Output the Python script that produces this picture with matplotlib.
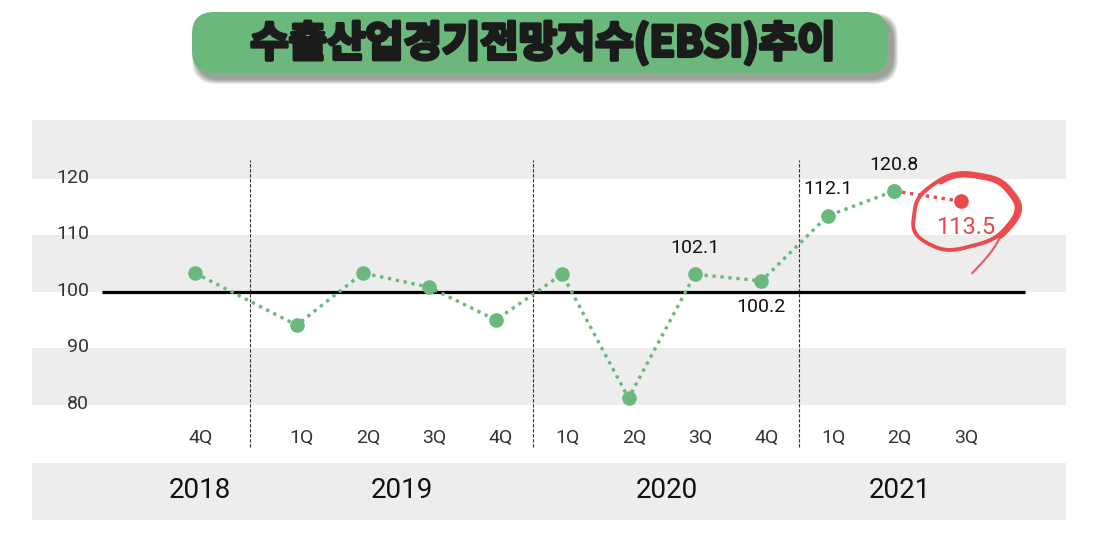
import numpy as np
import matplotlib
matplotlib.use("Agg")
import matplotlib.pyplot as plt
from matplotlib.patches import FancyBboxPatch
from matplotlib import transforms
import matplotlib.patheffects as pe

plt.rcParams['font.family'] = ['Roboto', 'Noto Sans CJK KR', 'DejaVu Sans']

# ---------------- data ----------------
title = "수출산업경기전망지수(EBSI)추이"
years = ["2018", "2019", "2020", "2021"]
quarters = ["4Q", "1Q", "2Q", "3Q", "4Q", "1Q", "2Q", "3Q", "4Q", "1Q", "2Q", "3Q"]
year_idx = [0, 1, 1, 1, 1, 2, 2, 2, 2, 3, 3, 3]
ebsi = [103.3, 94.1, 103.3, 100.8, 95.0, 103.1, 81.2, 103.1, 101.9, 113.4, 117.8, 116.0]
label_idx = [7, 8, 9, 10, 11]
label_txt = ["102.1", "100.2", "112.1", "120.8", "113.5"]
label_dir = [1, -1, 1, 1, -1]
yticks = [80, 90, 100, 110, 120]
baseline = 100

GREEN = "#6bb87d"
RED = "#eb484b"
BAND = "#ededed"

# ---------------- layout ----------------
W, H = 1101, 537
fig = plt.figure(figsize=(W / 100, H / 100), dpi=100)
fig.patch.set_facecolor("white")

first_gap = 0.53
xpos = np.array([i + (first_gap if i > 0 else 0.0) for i in range(len(quarters))])
ppu = 66.4
x0_px = 195
ax = fig.add_axes([32 / W, 1 - 520 / H, 1034 / W, 400 / H])
ax.set_xlim((32 - x0_px) / ppu, (1066 - x0_px) / ppu)
ax.set_ylim(59.67, 130.34)
for s in ax.spines.values():
    s.set_visible(False)
ax.set_xticks([])
ax.set_yticks(yticks)
ax.set_yticklabels([str(v) for v in yticks])
ax.tick_params(axis='y', length=0, pad=-41, labelsize=14, labelcolor="#333333")
shift = transforms.ScaledTranslation(0, 3 / 100, fig.dpi_scale_trans)
for lab in ax.get_yticklabels():
    lab.set_transform(lab.get_transform() + shift)

# background bands
for lo, hi in [(120, 130.34), (100, 110), (80, 90), (59.67, 69.75)]:
    ax.axhspan(lo, hi, color=BAND, lw=0, zorder=0)

# baseline 100
ax.hlines(baseline, (102 - x0_px) / ppu, (1025 - x0_px) / ppu,
          color="black", lw=2.3, zorder=2)

# year separators
for k in range(1, len(years)):
    prev_last = max(xpos[j] for j in range(len(xpos)) if year_idx[j] == k - 1)
    next_first = min(xpos[j] for j in range(len(xpos)) if year_idx[j] == k)
    ax.vlines((prev_last + next_first) / 2 + 0.06, 72.6, 123.3, color="#333333",
              lw=0.8, linestyles=(0, (3, 1.5)), zorder=1)

# quarter labels
for x, q in zip(xpos, quarters):
    ax.text(x + 0.08, 74.1, q, ha="center", va="center", fontsize=14,
            color="#333333")

# year labels
for k, yr in enumerate(years):
    xs = [xpos[j] for j in range(len(xpos)) if year_idx[j] == k]
    ax.text(np.mean(xs) + 0.08, 64.8, yr, ha="center", va="center", fontsize=20,
            color="#111111")

# series
ax.plot(xpos[:-1], ebsi[:-1], color=GREEN, lw=2.4, linestyle=(0, (1, 1.4)),
        marker="o", markersize=10.5, markeredgewidth=0, zorder=3)
ax.plot(xpos[-2:], ebsi[-2:], color=RED, lw=2.4, linestyle=(0, (1, 1.4)), zorder=3)
ax.plot(xpos[-2:-1], ebsi[-2:-1], "o", color=GREEN, markersize=10.5, markeredgewidth=0, zorder=4)
ax.plot(xpos[-1:], ebsi[-1:], "o", color=RED, markersize=10.5, markeredgewidth=0, zorder=4)

for i, t, d in zip(label_idx, label_txt, label_dir):
    red = (i == len(ebsi) - 1)
    ax.annotate(t, (xpos[i], ebsi[i]), xytext=(4 if red else 0, 19 * d),
                textcoords="offset points", ha="center", va="center",
                fontsize=17 if red else 14, color=RED if red else "#111111",
                zorder=5)

# ---------------- overlay (title, hand-drawn circle) ----------------
ov = fig.add_axes([0, 0, 1, 1])
ov.set_xlim(0, W)
ov.set_ylim(H, 0)
ov.axis("off")
ov.patch.set_alpha(0)

bx, by, bw, bh = 192, 12, 696, 61
for k in range(10, 0, -1):
    grow = k * 1.0
    ov.add_patch(FancyBboxPatch((bx + 5 - grow / 2, by + 6 - grow / 2), bw + grow, bh + grow,
                                boxstyle="round,pad=0,rounding_size=24",
                                fc="#2a3a2a", ec="none", alpha=0.06, zorder=1))
ov.add_patch(FancyBboxPatch((bx, by), bw, bh, boxstyle="round,pad=0,rounding_size=22",
                            fc=GREEN, ec="none", zorder=2))
ov.text(bx + bw / 2 + 3, by + bh / 2 + 1, title, ha="center", va="center",
        fontsize=30, fontweight="black", color="#1b1b1b",
        family=["Noto Sans CJK KR", "DejaVu Sans"], zorder=3,
        path_effects=[pe.withStroke(linewidth=2.6, foreground="#1b1b1b")])

# hand-drawn red loop (continuous spiral-ish stroke with tail)
cx, cy, rx, ry, th = 964, 212, 50, 35, -0.22
t = np.linspace(-1.9, 2 * np.pi + 1.0, 500)
grow = 1 + 0.07 * (t - t[0]) / (2 * np.pi)
wob = 1 + 0.03 * np.sin(3 * t + 0.5) + 0.015 * np.sin(7 * t)
X = rx * np.cos(t) * grow * wob
Y = ry * np.sin(t) * grow * wob
xs = cx + X * np.cos(th) - Y * np.sin(th)
ys = cy + X * np.sin(th) + Y * np.cos(th)
tt = np.linspace(0, 1, 40)[1:]
tx = xs[-1] - 28 * tt + 4 * np.sin(np.pi * tt)
ty = ys[-1] + 36 * tt - 2 * np.sin(np.pi * tt)
px = np.concatenate([xs, tx])
py = np.concatenate([ys, ty])
lw_profile = [(0, 0, 2.8, 0.95), (1.0, 0.8, 1.0, 0.6), (-0.9, -0.7, 1.0, 0.6)]
for dx, dy, lw, al in lw_profile:
    ov.plot(px[:len(xs)] + dx, py[:len(xs)] + dy, color=RED, lw=lw, alpha=al,
            solid_capstyle="round", zorder=5)
ov.plot(tx, ty, color=RED, lw=1.5, alpha=0.9, solid_capstyle="round", zorder=5)

fig.savefig("out.png", dpi=100)
